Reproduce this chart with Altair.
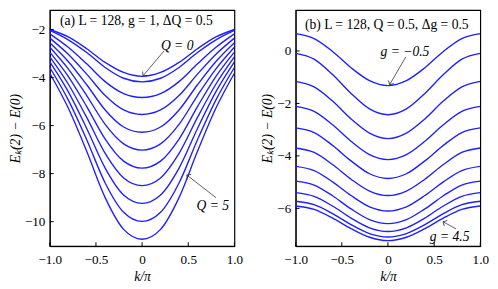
import altair as alt
import pandas as pd

# k/pi sample points (curves are symmetric in k)
K_HALF = [0.0, 0.2, 0.4, 0.6, 0.8, 1.0]

# panel (a): Q = 0 ... 5
Q_VALUES = [0, 0.5, 1, 1.5, 2, 2.5, 3, 3.5, 4, 4.5, 5]
PANEL_A = [
    [-3.95, -3.79, -3.37, -2.80, -2.31, -2.00],
    [-4.18, -4.03, -3.58, -2.96, -2.43, -2.04],
    [-4.83, -4.67, -4.17, -3.43, -2.74, -2.18],
    [-5.54, -5.35, -4.75, -3.86, -3.03, -2.36],
    [-6.28, -6.06, -5.35, -4.30, -3.33, -2.55],
    [-7.02, -6.76, -5.95, -4.75, -3.64, -2.74],
    [-7.77, -7.48, -6.56, -5.21, -3.95, -2.94],
    [-8.50, -8.18, -7.16, -5.66, -4.27, -3.14],
    [-9.24, -8.89, -7.77, -6.12, -4.59, -3.35],
    [-9.99, -9.61, -8.39, -6.59, -4.93, -3.58],
    [-10.73, -10.32, -9.00, -7.07, -5.27, -3.82],
]

# panel (b): g = -0.5 ... 4.5
G_VALUES = [-0.5, 0, 0.5, 1, 1.5, 2, 2.5, 3, 3.5, 4, 4.5]
PANEL_B = [
    [-1.32, -1.13, -0.64, -0.02, 0.47, 0.66],
    [-2.43, -2.21, -1.62, -0.90, -0.31, -0.09],
    [-3.34, -3.13, -2.59, -1.91, -1.37, -1.16],
    [-4.14, -3.95, -3.44, -2.81, -2.30, -2.11],
    [-4.86, -4.68, -4.19, -3.60, -3.11, -2.93],
    [-5.51, -5.34, -4.89, -4.33, -3.87, -3.70],
    [-6.10, -5.94, -5.51, -4.99, -4.56, -4.40],
    [-6.58, -6.43, -6.02, -5.52, -5.11, -4.96],
    [-6.88, -6.74, -6.37, -5.91, -5.54, -5.40],
    [-7.09, -6.96, -6.62, -6.20, -5.86, -5.73],
    [-7.23, -7.10, -6.77, -6.37, -6.04, -5.91],
]

X_TICKS = [-1.0, -0.5, 0.0, 0.5, 1.0]
Y_TICKS_A = [-10, -8, -6, -4, -2]
Y_TICKS_B = [-6, -4, -2, 0]

TITLE_A = "(a)  L = 128, g = 1, ΔQ = 0.5"
TITLE_B = "(b) L = 128, Q = 0.5, Δg = 0.5"

# annotations (data coordinates)
NOTES_A = {"k": [0.38, 0.765], "v": [-2.69, -9.35], "text": ["Q = 0", "Q = 5"]}
ARROWS_A = {"k": [0.24, 0.80], "v": [-2.88, -9.00], "k2": [0.01, 0.484], "v2": [-3.93, -8.06], "angle": [219, 308]}
NOTES_B = {"k": [0.184, 0.668], "v": [-0.04, -7.11], "text": ["g = −0.5", "g = 4.5"]}
ARROWS_B = {"k": [0.193, 0.737], "v": [-0.23, -6.78], "k2": [0.018, 0.597], "v2": [-1.285, -6.51], "angle": [210, 299]}

FONT = "Liberation Serif"
BLUE = "#1f1fff"
W, H = 190, 243


def curves_frame(labels, table):
    rows = []
    for lab, vals in zip(labels, table):
        ks = [-k for k in reversed(K_HALF[1:])] + K_HALF
        vs = list(reversed(vals[1:])) + vals
        for k, v in zip(ks, vs):
            rows.append({"curve": str(lab), "k": k, "v": v})
    return pd.DataFrame(rows)


def panel(df, ydomain, yticks, title_text, title_pos, notes, arrows):
    xs = alt.Scale(domain=[-1, 1], nice=False, zero=False)
    ys = alt.Scale(domain=ydomain, nice=False, zero=False)
    lines = alt.Chart(df).mark_line(color=BLUE, strokeWidth=1.4, interpolate="monotone", clip=True).encode(
        x=alt.X("k:Q", scale=xs, axis=alt.Axis(
            values=X_TICKS, title="k/π", labelFlush=False, ticks=False, labelPadding=7, titlePadding=4,
            labelExpr="datum.value == 0 ? '0' : format(datum.value, '.1f')")),
        y=alt.Y("v:Q", scale=ys, axis=alt.Axis(values=yticks, title="Eₖ(2) − E(0)", format="d",
                                               labelFlush=False, ticks=False, labelPadding=5)),
        detail="curve:N",
    )
    # inward ticks
    yt = alt.Chart(pd.DataFrame({"v": yticks})).mark_rule(color="black", strokeWidth=1).encode(
        y=alt.Y("v:Q"), x=alt.value(0), x2=alt.value(4))
    xt = alt.Chart(pd.DataFrame({"k": X_TICKS})).mark_rule(color="black", strokeWidth=1).encode(
        x=alt.X("k:Q"), y=alt.value(H), y2=alt.value(H - 4))
    ndf = pd.DataFrame(notes)
    txt = alt.Chart(ndf).mark_text(font=FONT, fontSize=14, fontStyle="italic", color="black").encode(
        x=alt.X("k:Q"), y=alt.Y("v:Q"), text="text:N")
    adf = pd.DataFrame(arrows)
    shafts = alt.Chart(adf).mark_rule(color="#333333", strokeWidth=0.8).encode(
        x=alt.X("k:Q"), y=alt.Y("v:Q"), x2="k2:Q", y2="v2:Q")
    heads = alt.Chart(adf).mark_point(shape="M -1 1 L 0 0 L 1 1", filled=False, color="#333333",
                                      strokeWidth=0.8, size=40, opacity=1).encode(
        x=alt.X("k2:Q"), y=alt.Y("v2:Q"), angle=alt.Angle("angle:Q", scale=None))
    tdf = pd.DataFrame({"k": [title_pos[0]], "v": [title_pos[1]], "text": [title_text]})
    title = alt.Chart(tdf).mark_text(font=FONT, fontSize=14, align="left", baseline="middle", color="black").encode(
        x=alt.X("k:Q"), y=alt.Y("v:Q"), text="text:N")
    return alt.layer(lines, yt, xt, shafts, heads, txt, title).properties(width=W, height=H)


left = panel(curves_frame(Q_VALUES, PANEL_A), [-11.02, -1.19], Y_TICKS_A, TITLE_A, (-0.89, -1.66),
             NOTES_A, ARROWS_A)
right = panel(curves_frame(G_VALUES, PANEL_B), [-7.44, 1.56], Y_TICKS_B, TITLE_B, (-0.90, 1.0),
              NOTES_B, ARROWS_B)

chart = alt.hconcat(left, right, spacing=17).properties(
    padding={"left": 0, "top": -3, "right": 0, "bottom": 0}
).configure_view(stroke="black", strokeWidth=1.2).configure_axis(
    grid=False, labelFont=FONT, labelFontSize=13.5, labelColor="black",
    titleFont=FONT, titleFontSize=14, titleFontWeight="normal", titleFontStyle="italic",
    titleColor="black", domainColor="black", titlePadding=2,
)

chart.save("out.html", embed_options={"renderer": "svg", "actions": False})
